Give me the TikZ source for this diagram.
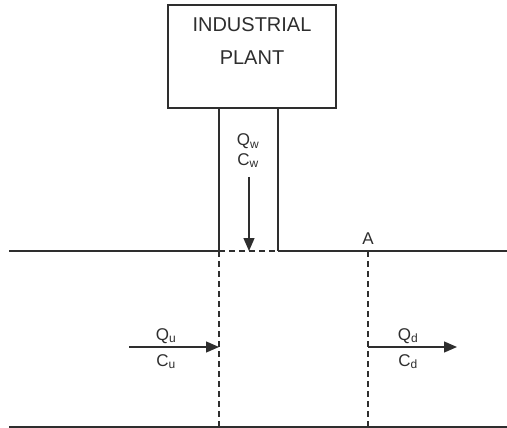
\documentclass[tikz,border=0pt]{standalone}
\usepackage{fontspec}
\setmainfont{Liberation Sans}
\usetikzlibrary{arrows.meta}
\definecolor{ink}{HTML}{2E2E2E}
\tikzset{
  x=1pt, y=-1pt,
  wall/.style={draw=ink, line width=1.2pt},
  gap/.style={draw=ink, line width=1.2pt, dash pattern=on 6pt off 4pt},
  flow/.style={draw=ink, line width=1.3pt, -{Triangle[length=13pt,width=11pt]}},
  plantbox/.style={draw=ink, line width=1.2pt, minimum width=168pt, minimum height=103pt, inner sep=0pt},
  big/.style={font=\fontsize{20}{24}\selectfont, text=ink, inner sep=0pt, anchor=base},
  sym/.style={font=\fontsize{17}{20}\selectfont, text=ink, inner sep=0pt, anchor=base}
}
\newcommand{\subt}[2]{#1\textsubscript{\fontsize{12}{13}\selectfont #2}}
\begin{document}
\begin{tikzpicture}
\useasboundingbox (0,0) rectangle (507,428);
% plant
\node[plantbox] (plant) at (252,56.5) {};
\node[big] (t1) at (252,32) {INDUSTRIAL};
\node[big] (t2) at (252,65) {PLANT};
% outfall channel
\coordinate (pl) at (219,108);
\coordinate (pr) at (278,108);
\coordinate (ml) at (219,251);
\coordinate (mr) at (278,251);
\draw[wall] (pl) -- (ml);
\draw[wall] (pr) -- (mr);
% river banks
\coordinate (bl) at (9,251);
\coordinate (br) at (507,251);
\coordinate (cl) at (9,427);
\coordinate (cr) at (507,427);
\draw[wall] (bl) -- (ml);
\draw[gap] (ml) -- (mr);
\draw[wall] (mr) -- (br);
\draw[wall] (cl) -- (cr);
% sections
\coordinate (ub) at (219,427);
\coordinate (at) at (368,251);
\coordinate (ab) at (368,427);
\draw[gap] (ml) -- (ub);
\draw[gap] (at) -- (ab);
\node[sym] (A) at (368,244) {A};
% waste flow
\node[sym] (qw) at (248,146) {\subt{Q}{w}};
\node[sym] (cw) at (248,165) {\subt{C}{w}};
\coordinate (w0) at (249,177);
\coordinate (w1) at (249,251);
\draw[flow] (w0) -- (w1);
% upstream
\coordinate (u0) at (129,347);
\coordinate (u1) at (219,347);
\draw[flow] (u0) -- (u1);
\node[sym] (qu) at (166,340) {\subt{Q}{u}};
\node[sym] (cu) at (166,366) {\subt{C}{u}};
% downstream
\coordinate (d0) at (368,347);
\coordinate (d1) at (457,347);
\draw[flow] (d0) -- (d1);
\node[sym] (qd) at (408,340) {\subt{Q}{d}};
\node[sym] (cd) at (408,366) {\subt{C}{d}};
\end{tikzpicture}
\end{document}
